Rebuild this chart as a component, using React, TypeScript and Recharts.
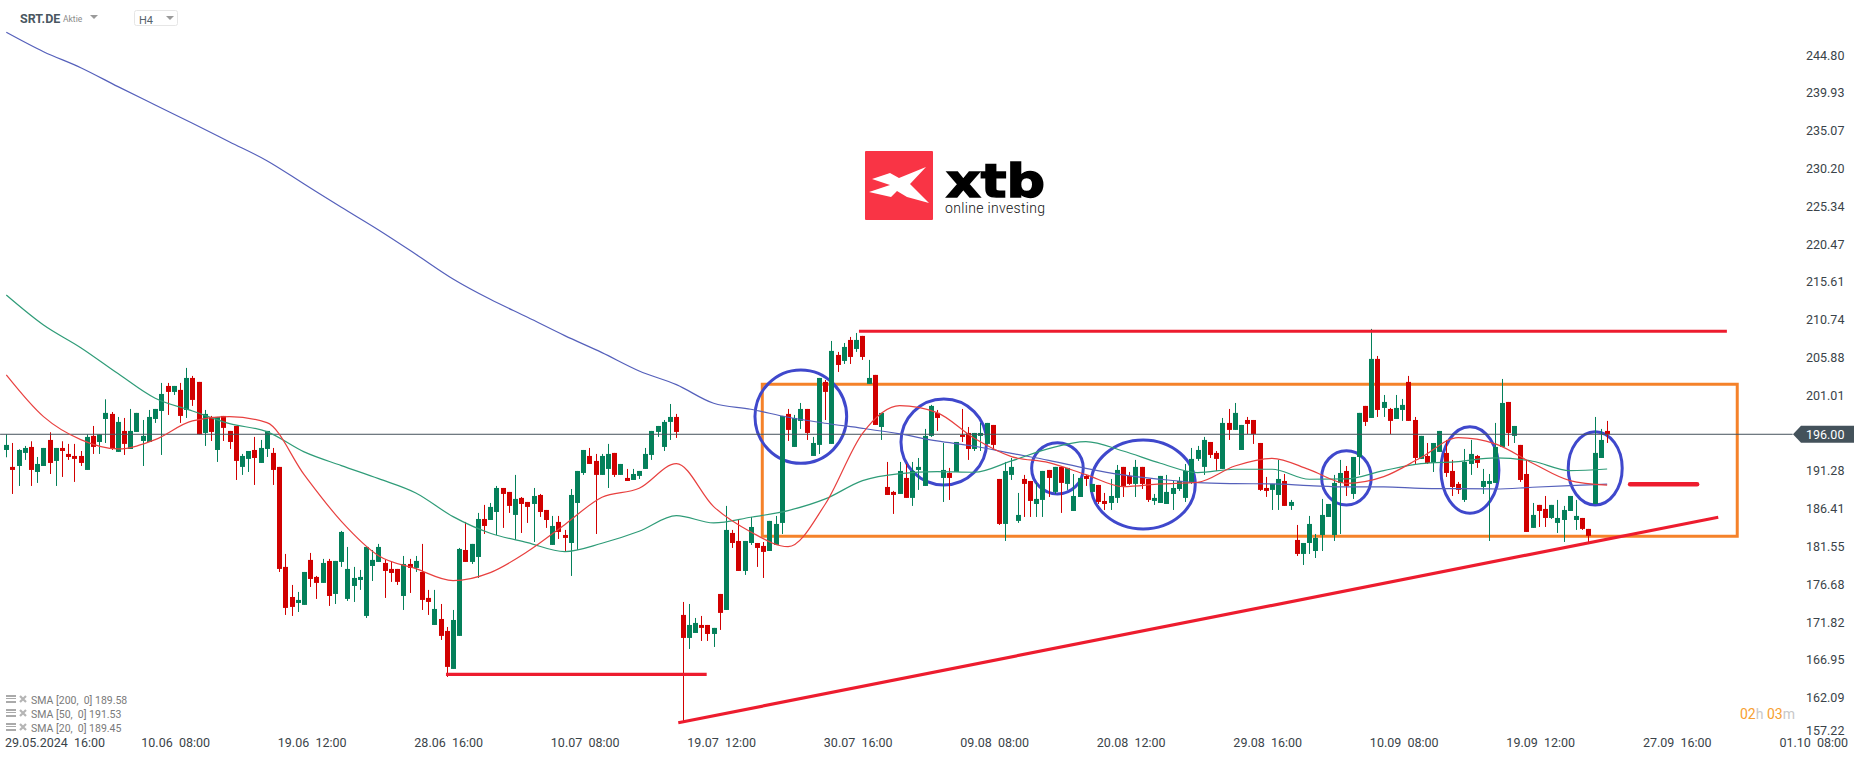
import React from 'react';
import {
  ComposedChart,
  Bar,
  Line,
  XAxis,
  YAxis,
  ReferenceLine,
  ReferenceArea,
} from 'recharts';

// H4 candles
const opens = [
  193.98,191.80,191.92,193.60,194.37,191.15,191.92,195.27,192.57,194.24,
  193.47,193.21,193.21,191.41,195.79,195.01,197.97,198.62,193.73,196.43,
  194.11,196.30,195.14,195.01,197.97,199.00,202.22,201.45,201.71,199.13,
  203.25,202.74,196.17,198.23,193.98,198.36,196.43,197.07,191.80,192.83,
  193.98,192.31,194.11,193.60,191.80,178.93,175.06,174.29,174.04,179.83,
  177.64,176.87,179.70,175.45,179.57,174.81,176.48,177.25,172.62,179.05,
  179.57,179.44,178.67,178.67,175.19,179.31,178.80,178.28,174.94,171.46,
  172.23,170.69,165.80,170.05,181.11,179.57,180.21,185.10,184.97,186.00,
  189.09,188.58,185.62,187.81,187.29,187.03,188.19,186.26,181.76,184.72,
  183.04,182.01,187.16,191.02,193.21,192.57,190.77,191.54,193.60,190.77,
  190.38,190.12,190.64,191.54,193.34,196.30,194.37,197.59,198.23,172.75,
  169.79,170.43,171.46,171.46,170.30,175.45,173.39,183.30,182.27,178.41,
  182.01,182.01,181.63,180.98,181.76,184.59,198.62,194.37,197.72,199.26,
  193.21,194.63,202.74,194.76,206.21,205.44,208.14,206.98,208.66,202.48,
  203.64,196.94,189.22,188.58,188.32,190.38,187.81,191.41,189.35,195.79,
  198.75,190.38,191.02,191.15,195.91,196.17,194.11,195.79,194.76,197.20,
  190.25,184.46,190.77,184.85,190.25,189.99,187.03,187.55,191.41,188.58,
  191.80,189.61,186.13,187.93,190.64,188.58,189.48,187.42,187.16,187.81,
  191.80,190.64,189.61,191.80,190.25,187.42,187.16,187.03,188.32,188.96,
  187.81,189.74,192.83,191.80,195.01,193.60,191.54,197.46,196.56,193.98,
  197.84,197.84,194.88,189.09,188.84,188.19,189.99,186.78,182.40,180.60,
  182.01,180.98,183.04,185.36,183.04,189.74,191.28,188.32,193.08,199.65,
  198.10,205.70,199.39,199.26,197.97,199.13,202.74,197.84,192.83,193.21,
  192.31,193.73,193.60,191.28,189.61,187.55,192.18,193.21,189.22,189.61,
  189.74,194.37,200.16,195.79,194.63,190.89,183.95,186.91,186.39,185.23,
  184.59,184.97,186.13,184.97,185.23,183.82,187.03,192.95,196.43,
];
const closes = [
  194.63,191.41,193.98,194.24,191.41,192.18,194.24,192.31,194.24,193.85,
  193.08,192.83,192.31,195.66,194.37,196.00,198.75,194.11,197.59,194.76,
  196.43,198.75,195.79,198.23,199.26,201.19,201.45,202.22,198.36,203.25,
  200.42,196.00,198.62,196.30,198.23,196.82,195.01,192.57,193.21,193.85,
  192.95,194.24,196.43,191.41,178.67,173.65,173.78,174.68,178.28,177.38,
  176.87,179.44,175.19,179.70,183.43,178.67,177.51,177.64,181.50,179.83,
  181.50,178.41,178.15,177.00,179.31,178.80,179.70,174.68,174.42,173.52,
  170.05,166.06,172.10,181.24,179.57,181.89,185.10,184.20,186.65,189.09,
  188.32,186.78,187.68,187.03,186.65,188.06,186.00,184.97,184.20,183.43,
  182.66,188.19,191.28,193.98,192.18,190.77,193.21,193.47,190.77,192.18,
  189.99,190.89,191.28,193.47,196.43,197.07,197.59,198.23,196.30,169.79,
  171.46,171.72,171.08,170.30,171.08,173.01,183.69,182.01,178.41,182.27,
  184.07,181.37,180.86,184.85,184.46,198.36,196.56,198.10,199.26,196.17,
  194.88,203.25,201.45,206.73,204.92,207.24,205.95,208.14,205.95,203.25,
  197.20,198.75,188.19,188.19,191.28,187.81,191.28,191.80,195.79,199.65,
  198.10,191.41,190.38,195.01,195.66,194.11,196.17,196.17,197.46,194.63,
  184.46,191.28,191.80,185.62,189.61,187.42,187.68,191.28,190.38,191.80,
  189.74,191.67,188.06,190.38,190.25,189.61,187.29,187.03,188.06,191.41,
  189.35,189.61,191.80,189.61,187.55,187.81,190.64,188.58,189.09,189.99,
  191.28,192.83,193.98,195.27,193.34,192.83,197.46,196.56,198.75,197.20,
  197.33,196.04,188.84,188.71,189.61,190.25,186.78,187.29,180.60,182.01,
  184.46,182.66,185.62,187.03,189.74,191.02,189.35,193.08,198.75,197.59,
  205.70,199.13,200.16,197.72,199.39,199.78,197.72,192.95,195.79,192.31,
  194.88,196.43,191.02,189.22,188.84,192.44,193.47,192.31,189.99,189.99,
  194.37,200.03,196.17,197.07,190.12,183.43,185.62,186.13,185.23,186.91,
  185.23,186.26,188.06,185.49,183.82,182.92,193.60,195.27,196.00,
];
const highs = [
  196.00,194.88,194.07,194.50,195.10,193.08,194.24,196.26,194.24,195.10,
  194.76,194.76,193.85,196.00,197.07,196.00,200.50,198.87,198.23,198.10,
  199.26,198.75,197.84,199.13,199.26,202.61,202.61,202.22,202.61,204.54,
  203.51,202.74,199.13,198.36,198.23,198.36,196.43,197.07,193.47,193.85,
  195.66,195.27,196.43,194.24,191.80,180.60,176.61,175.71,178.28,180.73,
  177.77,179.96,179.96,179.70,183.56,181.50,178.93,178.54,181.50,181.11,
  181.89,179.83,179.57,178.67,180.34,179.96,180.34,181.89,175.97,175.97,
  174.16,171.20,173.39,181.37,184.72,181.89,185.88,186.91,187.16,189.35,
  189.09,188.58,190.77,187.93,187.29,189.09,188.32,186.26,185.49,185.49,
  183.69,188.96,191.28,193.98,194.24,193.47,193.47,194.76,193.60,192.18,
  191.54,191.54,191.28,194.24,196.43,197.07,197.84,199.90,198.62,174.42,
  174.16,172.36,172.62,171.46,171.08,175.45,186.78,183.69,185.10,182.27,
  185.36,182.01,182.14,184.85,185.49,198.36,199.26,198.49,200.03,199.26,
  195.66,203.25,202.99,208.01,206.60,207.75,208.53,209.04,208.66,205.57,
  203.64,198.75,192.44,188.71,192.44,192.18,192.44,192.95,196.69,199.78,
  199.13,194.88,191.67,195.01,199.26,196.94,196.17,197.46,197.46,197.20,
  190.25,192.44,192.95,188.45,190.77,189.99,189.74,191.28,191.41,191.80,
  191.80,191.67,190.89,190.38,190.77,189.61,189.48,188.45,190.25,192.05,
  191.80,191.15,192.70,191.80,190.25,188.32,190.64,190.77,189.99,190.51,
  192.18,194.24,194.50,195.66,195.01,193.85,198.10,199.26,200.03,197.20,
  198.23,197.84,194.88,190.51,189.61,192.70,190.89,187.55,184.33,182.01,
  185.49,183.17,187.68,187.03,190.77,192.70,191.92,193.08,198.75,199.65,
  209.56,206.08,201.06,199.39,201.06,200.55,203.51,198.23,195.79,194.88,
  194.88,196.43,195.27,192.70,189.87,194.11,195.27,193.34,191.54,190.89,
  197.46,203.12,200.16,197.07,194.63,192.70,187.16,186.91,188.06,186.91,
  187.55,186.78,188.06,187.55,185.23,183.82,198.23,196.69,197.72,
];
const lows = [
  193.04,188.32,189.35,192.70,189.35,189.74,191.92,190.89,189.35,190.51,
  192.70,189.87,191.92,191.41,193.47,193.47,194.88,193.98,193.73,193.34,
  194.11,196.30,191.92,195.01,197.46,193.34,198.49,201.06,197.46,198.10,
  199.65,196.00,194.50,195.14,192.44,195.14,194.11,190.12,190.77,191.15,
  189.48,192.31,193.08,189.48,178.28,172.75,172.62,173.13,174.04,176.35,
  174.81,176.87,173.91,174.16,178.93,174.55,174.42,175.97,172.36,177.12,
  179.57,174.94,177.00,176.61,173.39,175.58,178.28,173.39,172.75,171.46,
  169.53,164.77,165.80,170.05,179.57,179.31,177.51,183.17,184.97,183.04,
  183.95,185.88,182.40,183.30,184.59,182.14,185.36,183.95,181.76,182.53,
  180.86,177.77,181.11,190.77,192.18,183.17,190.77,189.09,190.51,190.77,
  189.99,190.12,190.25,191.54,192.70,195.66,193.85,195.27,195.53,158.98,
  168.37,170.43,169.40,169.40,168.63,170.82,173.39,181.37,178.41,177.90,
  181.76,178.93,177.51,180.98,181.76,183.17,195.14,194.37,196.69,195.27,
  193.21,193.47,197.84,194.76,204.02,205.05,205.05,206.60,205.57,202.48,
  197.20,195.27,188.19,185.75,188.32,187.81,186.78,188.84,189.35,195.66,
  196.43,187.29,187.55,191.15,195.01,192.70,193.85,193.85,194.76,193.98,
  184.33,182.27,190.12,184.59,185.36,185.36,185.36,185.36,187.93,188.32,
  185.88,188.84,186.13,187.93,189.35,188.58,187.03,186.26,186.26,187.16,
  187.93,189.48,187.93,188.96,187.29,186.91,187.16,187.03,186.26,188.71,
  187.29,189.61,192.57,190.77,192.95,191.28,191.54,195.27,196.56,193.98,
  196.04,194.76,188.71,187.94,186.26,186.26,186.78,186.26,180.34,179.18,
  180.60,180.08,180.98,185.36,182.27,183.17,188.06,187.68,190.77,197.07,
  198.10,198.23,198.23,196.04,197.97,197.72,197.72,192.18,192.83,192.18,
  191.15,193.73,190.51,188.06,188.32,187.29,190.77,191.67,188.32,182.27,
  189.74,194.37,194.50,194.88,189.87,183.43,183.95,184.07,184.07,185.10,
  183.30,182.14,186.13,183.69,183.69,181.89,187.03,192.95,194.88,
];

// moving averages, one reading every 6th candle
const SMA_STEP = 6;
const sma20 = [
  203.64,198.27,195.31,194.11,195.31,197.72,198.27,197.50,190.81,184.80,
  180.38,178.71,177.17,178.20,180.90,184.37,187.90,189.05,192.22,186.69,
  183.43,181.54,187.03,196.13,199.69,198.79,195.49,193.13,192.35,190.81,
  189.26,189.61,189.82,191.92,192.91,191.45,189.69,190.55,193.00,195.57,
  194.76,192.27,190.04,189.45,
];
const sma50 = [
  213.93,210.07,207.15,203.81,200.63,199.00,197.37,196.34,193.73,191.97,
  190.29,188.45,185.40,183.26,182.06,180.90,181.97,183.52,185.53,184.59,
  185.32,186.18,187.68,190.04,190.94,191.20,191.11,192.57,194.16,195.06,
  193.85,192.27,191.07,191.50,191.50,190.21,190.25,191.32,192.22,192.48,
  192.95,192.53,191.32,191.53,
];
const sma200 = [
  247.74,245.24,243.18,240.74,238.38,236.03,233.62,231.21,228.21,225.21,
  222.29,219.17,215.99,213.37,211.06,208.70,206.51,204.15,202.39,199.99,
  199.22,198.19,197.42,196.77,196.04,195.14,194.46,193.55,192.65,191.62,
  190.77,190.21,189.78,189.65,189.61,189.39,189.22,189.22,189.05,189.00,
  188.96,189.18,189.39,189.58,
];

const priceTicks = [
  244.8, 239.93, 235.07, 230.2, 225.34, 220.47, 215.61, 210.74, 205.88, 201.01,
  196, 191.28, 186.41, 181.55, 176.68, 171.82, 166.95, 162.09, 157.22,
];
const timeTicks = [7.85, 27.3, 49.3, 71.3, 93.3, 115.3, 137.3, 159.3, 181.3, 203.3, 225.3, 247.3, 269.3, 291.3];
const timeLabels = [
  '29.05.2024  16:00', '10.06  08:00', '19.06  12:00', '28.06  16:00', '10.07  08:00',
  '19.07  12:00', '30.07  16:00', '09.08  08:00', '20.08  12:00', '29.08  16:00',
  '10.09  08:00', '19.09  12:00', '27.09  16:00', '01.10  08:00',
];
const legendRows = ['SMA [200,  0] 189.58', 'SMA [50,  0] 191.53', 'SMA [20,  0] 189.45'];

// drawn annotations, candle index and price
const circles = [
  [120.66, 135.44, 192.27, 204.28],
  [144.19, 158.0, 189.48, 200.54],
  [165.25, 173.57, 188.32, 194.92],
  [174.81, 191.62, 183.81, 195.27],
  [211.99, 219.98, 186.9, 193.89],
  [231.22, 240.56, 185.83, 196.98],
  [251.73, 260.43, 186.9, 196.33],
];
const redLines = [
  [137.42, 209.26, 277.3, 209.26],
  [70.86, 165.11, 112.88, 165.11],
  [108.3, 158.88, 275.91, 185.32],
];

const UP = '#04805a';
const DOWN = '#d10000';
const LAST_PRICE = 196;

const rows = opens.map((open, i) => ({
  i,
  open,
  close: closes[i],
  high: highs[i],
  low: lows[i],
  range: [lows[i], highs[i]],
}));

const smaRows = sma20.map((v, k) => ({
  i: k * SMA_STEP,
  sma20: v,
  sma50: sma50[k],
  sma200: sma200[k],
}));

const Candle = (props: any) => {
  const { x, y, width, height, payload } = props;
  const { open, close, high, low } = payload;
  const perUnit = height / (high - low);
  const top = y + (high - Math.max(open, close)) * perUnit;
  const bodyH = Math.max(Math.abs(open - close) * perUnit, 1);
  const color = close >= open ? UP : DOWN;
  const left = Math.round(x);
  return (
    <g>
      <rect x={left + 2} y={y} width={1} height={height} fill={color} />
      <rect x={left} y={top} width={width} height={bodyH} fill={color} />
    </g>
  );
};

const Ellipse = (props: any) => {
  const { x, y, width, height } = props;
  return (
    <ellipse
      cx={x + width / 2}
      cy={y + height / 2}
      rx={width / 2}
      ry={height / 2}
      fill="none"
      stroke="#3f48cc"
      strokeWidth={3}
    />
  );
};

const PriceTick = (props: any) => {
  const { y, payload } = props;
  const text = payload.value.toFixed(2);
  if (payload.value === LAST_PRICE) {
    return (
      <g>
        <path
          d={`M1793 ${y} L1801 ${y - 8.5} L1854 ${y - 8.5} L1854 ${y + 8.5} L1801 ${y + 8.5} Z`}
          fill="#44525b"
        />
        <text x={1806} y={y + 5} fontFamily="Roboto" fontSize={12.5} fill="#ffffff">
          {text}
        </text>
      </g>
    );
  }
  return (
    <text x={1806} y={Math.min(y, 730) + 4.5} fontFamily="Roboto" fontSize={12.5} fill="#3a4349">
      {text}
    </text>
  );
};

const TimeTick = (props: any) => {
  const { x, payload, index } = props;
  return (
    <text
      x={x}
      y={746.5}
      textAnchor="middle"
      fontFamily="Roboto"
      fontSize={12.5}
      fill="#3a4349"
      style={{ whiteSpace: 'pre' }}
    >
      {timeLabels[index] ?? payload.value}
    </text>
  );
};

const Overlay = () => (
  <svg
    width={1866}
    height={759}
    style={{ position: 'absolute', left: 0, top: 0, pointerEvents: 'none' }}
  >
    <text x={20} y={23} fontFamily="Roboto" fontSize={12.5} fontWeight={700} fill="#4a5761">
      SRT.DE
    </text>
    <text x={63} y={22} fontFamily="Roboto" fontSize={8.5} fill="#8a8a8a">
      Aktie
    </text>
    <path d="M90 15 L98 15 L94 19 Z" fill="#9a9a9a" />
    <rect x={134.5} y={10.5} width={43} height={15} rx={2} fill="#fff" stroke="#e6e6e6" />
    <text x={139} y={24} fontFamily="Roboto" fontSize={11} fill="#55626b">
      H4
    </text>
    <path d="M166 16 L174 16 L170 20 Z" fill="#9a9a9a" />

    {legendRows.map((row, i) => {
      const cy = 700 + i * 14;
      return (
        <g key={row}>
          <path
            d={`M6 ${cy - 5} h10 v2 h-10 Z M6 ${cy - 2} h10 v1 h-10 Z M6 ${cy + 1} h10 v2 h-10 Z`}
            fill="#aaaaaa"
          />
          <path
            d={`M20 ${cy - 4} L26 ${cy + 2} M26 ${cy - 4} L20 ${cy + 2}`}
            stroke="#b5b5b5"
            strokeWidth={2.2}
          />
          <text
            x={31}
            y={cy + 4}
            fontFamily="Roboto"
            fontSize={10.5}
            fill="#7a7a7a"
            style={{ whiteSpace: 'pre' }}
          >
            {row}
          </text>
        </g>
      );
    })}

    <text x={1740} y={719} fontFamily="Roboto" fontSize={14} fill="#f7a030">
      02
      <tspan fill="#c8c8c8">h </tspan>
      03
      <tspan fill="#c8c8c8">m</tspan>
    </text>

    <rect x={865} y={151} width={68} height={69} rx={1} fill="#f93445" />
    <polygon
      points="872,179 890,173 899,178 926,167 910,184 929,203 907,197 897,191 891,197 869,192 890,185"
      fill="#ffffff"
    />
    <text
      x={946}
      y={197}
      fontFamily="DejaVu Sans"
      fontWeight={700}
      fontSize={46}
      textLength={99}
      lengthAdjust="spacingAndGlyphs"
      stroke="#000"
      strokeWidth={1.5}
      fill="#000"
    >
      xtb
    </text>
    <text
      x={945}
      y={213}
      fontFamily="Roboto"
      fontWeight={300}
      fontSize={14}
      textLength={100}
      fill="#111"
    >
      online investing
    </text>
  </svg>
);

export default function App() {
  return (
    <div
      style={{
        position: 'absolute',
        left: 0,
        top: 0,
        width: 1866,
        height: 759,
        background: '#fff',
        overflow: 'hidden',
      }}
    >
      <ComposedChart
        width={1866}
        height={759}
        data={rows}
        margin={{ top: 0, right: 0, bottom: 0, left: 0 }}
      >
        <XAxis
          dataKey="i"
          type="number"
          domain={[-1.015, 299.56]}
          allowDataOverflow
          ticks={timeTicks}
          interval={0}
          height={22}
          axisLine={false}
          tickLine={false}
          tick={<TimeTick />}
        />
        <YAxis
          type="number"
          orientation="right"
          width={1}
          domain={[157.04, 251.89]}
          allowDataOverflow
          ticks={priceTicks}
          interval={0}
          axisLine={false}
          tickLine={false}
          tick={<PriceTick />}
        />
        <ReferenceLine
          segment={[
            { x: -1, y: LAST_PRICE },
            { x: 287.9, y: LAST_PRICE },
          ]}
          stroke="#45525c"
          strokeWidth={1}
        />
        <Bar dataKey="range" barSize={5} shape={<Candle />} isAnimationActive={false} activeBar={false} />
        <Line data={smaRows} type="monotone" dataKey="sma200" stroke="#5560bb" strokeWidth={1.2} dot={false} activeDot={false} isAnimationActive={false} />
        <Line data={smaRows} type="monotone" dataKey="sma50" stroke="#2f9c78" strokeWidth={1.2} dot={false} activeDot={false} isAnimationActive={false} />
        <Line data={smaRows} type="monotone" dataKey="sma20" stroke="#e8403f" strokeWidth={1.2} dot={false} activeDot={false} isAnimationActive={false} />
        <ReferenceArea
          x1={121.84}
          x2={278.97}
          y1={182.87}
          y2={202.44}
          fill="none"
          stroke="#f5822a"
          strokeWidth={3}
          fillOpacity={0}
        />
        {redLines.map((l) => (
          <ReferenceLine
            key={l[0]}
            segment={[
              { x: l[0], y: l[1] },
              { x: l[2], y: l[3] },
            ]}
            stroke="#ed1c2e"
            strokeWidth={3.2}
          />
        ))}
        <ReferenceLine
          segment={[
            { x: 261.7, y: 189.56 },
            { x: 272.5, y: 189.56 },
          ]}
          stroke="#ed1c2e"
          strokeWidth={4.5}
          strokeLinecap="round"
        />
        {circles.map((c) => (
          <ReferenceArea key={c[0]} x1={c[0]} x2={c[1]} y1={c[2]} y2={c[3]} shape={<Ellipse />} />
        ))}
      </ComposedChart>
      <Overlay />
    </div>
  );
}
